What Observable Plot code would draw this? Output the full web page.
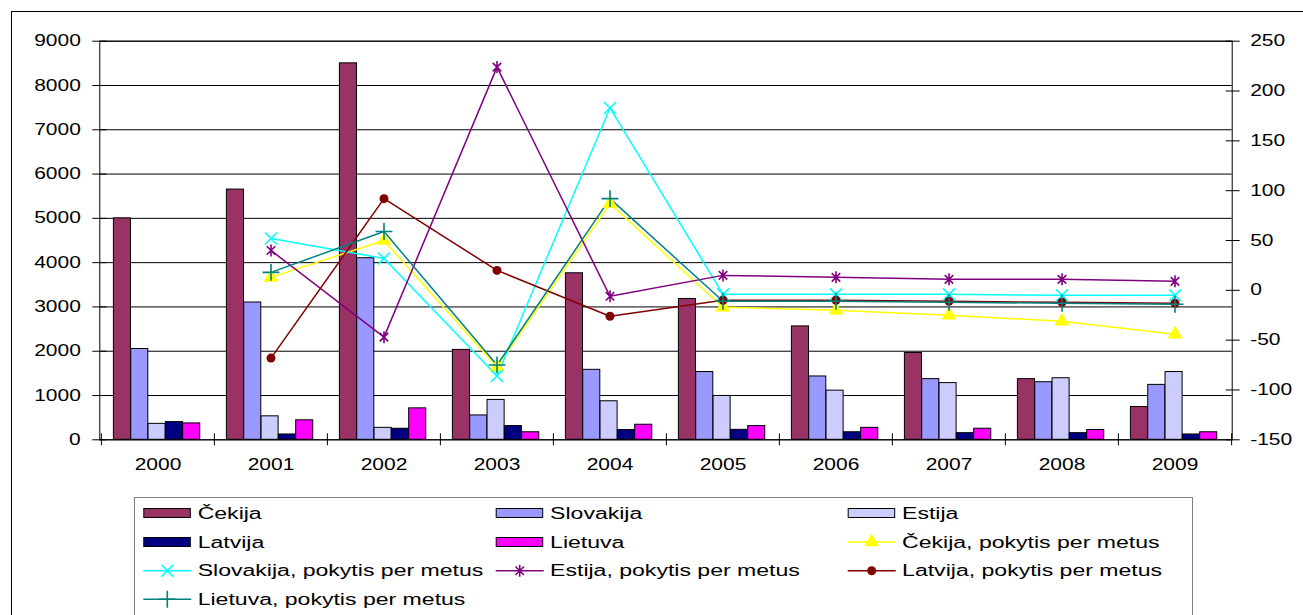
<!DOCTYPE html>
<html>
<head>
<meta charset="utf-8">
<script src="https://cdn.jsdelivr.net/npm/d3@7"></script>
<script src="https://cdn.jsdelivr.net/npm/@observablehq/plot@0.6"></script>
<style>
  html, body { margin: 0; padding: 0; background: #fff; }
  #wrap { position: relative; width: 1303px; height: 615px; overflow: hidden; background: #fff; }
  #wrap > svg { position: absolute; left: 0; top: 0; }
</style>
</head>
<body>
<div id="wrap"></div>
<script>
// ---------- data ----------
const years = ["2000", "2001", "2002", "2003", "2004", "2005", "2006", "2007", "2008", "2009"];
const cekija    = [5000, 5650, 8500, 2030, 3760, 3180, 2560, 1960, 1370, 740];
const slovakija = [2050, 3100, 4100, 550, 1580, 1530, 1430, 1370, 1300, 1240];
const estija    = [360, 530, 270, 900, 870, 990, 1110, 1280, 1390, 1530];
const latvija   = [400, 120, 250, 310, 220, 225, 170, 150, 150, 120];
const lietuva   = [370, 440, 710, 170, 340, 310, 270, 250, 220, 170];

const changeYears  = ["2001", "2002", "2003", "2004", "2005", "2006", "2007", "2008", "2009"];
const cekijaChg    = [13, 50, -77, 87, -17, -20, -25, -31, -44];
const slovakijaChg = [52, 32, -86, 183, -4, -4, -4, -5, -5];
const estijaChg    = [40, -47, 224, -6, 15, 13, 11, 11, 9];
const latvijaChg   = [-68, 92, 20, -26, -10, -10, -11, -12, -13];
const lietuvaChg   = [18, 59, -75, 92, -11, -11, -12, -13, -14];

const leftTicks  = [0, 1000, 2000, 3000, 4000, 5000, 6000, 7000, 8000, 9000];
const rightTicks = [-150, -100, -50, 0, 50, 100, 150, 200, 250];

// Excel-style star marker: an "x" with a vertical bar
const symbolStar = {
  draw(context, size) {
    const r = Math.sqrt(size / Math.PI);
    const d = r * Math.SQRT1_2;
    context.moveTo(-d, -d); context.lineTo(d, d);
    context.moveTo(d, -d); context.lineTo(-d, d);
    context.moveTo(0, -r); context.lineTo(0, r);
  }
};

const barSeries = [
  {name: "Čekija", values: cekija, color: "#993366"},
  {name: "Slovakija", values: slovakija, color: "#9999FF"},
  {name: "Estija", values: estija, color: "#CCCCFF"},
  {name: "Latvija", values: latvija, color: "#000080"},
  {name: "Lietuva", values: lietuva, color: "#FF00FF"}
];
const lineSeries = [
  {name: "Čekija, pokytis per metus", values: cekijaChg, color: "#FFFF00", symbol: d3.symbolTriangle, filled: true, r: 5.5},
  {name: "Slovakija, pokytis per metus", values: slovakijaChg, color: "#00FFFF", symbol: d3.symbolTimes, filled: false, r: 5.5},
  {name: "Estija, pokytis per metus", values: estijaChg, color: "#800080", symbol: symbolStar, filled: false, r: 6},
  {name: "Latvija, pokytis per metus", values: latvijaChg, color: "#800000", symbol: d3.symbolCircle, filled: true, r: 4.5},
  {name: "Lietuva, pokytis per metus", values: lietuvaChg, color: "#008080", symbol: d3.symbolPlus, filled: false, r: 5.5}
];

// right axis domain [-150, 250] mapped onto left domain [0, 9000]
const rMin = -150, rMax = 250, lMax = 9000;
const toLeft = v => (v - rMin) / (rMax - rMin) * lMax;
const fromLeft = d => Math.round(d / lMax * (rMax - rMin) + rMin);

// ---------- layout ----------
const W = 1303, H = 490;
const mL = 99.3, mR = 71.3, mT = 40.7, mB = 50.7;
const innerW = W - mL - mR, innerH = H - mT - mB;
const step = innerW / years.length;
const groupStart = 12.4, barW = 17.32;
const FONT = "'Liberation Sans', Arial, sans-serif";

const marks = [
  Plot.gridY(leftTicks, {stroke: "#000", strokeOpacity: 1, strokeWidth: 1})
];
barSeries.forEach((s, i) => {
  const off = groupStart + barW * i;
  marks.push(Plot.barY(years.map((y, j) => ({year: y, v: s.values[j]})), {
    x: "year", y: "v", fill: s.color, stroke: "#000", strokeWidth: 1,
    insetLeft: off, insetRight: step - off - barW
  }));
});
marks.push(Plot.frame({stroke: "#000", strokeWidth: 1}));
// category boundary ticks
marks.push(Plot.ruleX(years, {x: d => d, dx: -step / 2, insetTop: innerH - 6, insetBottom: -6, stroke: "#000"}));
marks.push(Plot.ruleX([years[years.length - 1]], {x: d => d, dx: step / 2, insetTop: innerH - 6, insetBottom: -6, stroke: "#000"}));
// axes
marks.push(Plot.axisX({tickSize: 0, tickPadding: 19, label: null, fontSize: 16}));
marks.push(Plot.axisY({anchor: "left", ticks: leftTicks, tickSize: 14, dx: 7, text: null, label: null, stroke: "#000"}));
marks.push(Plot.axisY({anchor: "left", ticks: leftTicks, tickSize: 0, tickPadding: 19, label: null, tickFormat: d => String(d), fontSize: 16}));
marks.push(Plot.axisY({anchor: "right", ticks: rightTicks.map(toLeft), tickSize: 14, dx: -7, text: null, label: null, stroke: "#000"}));
marks.push(Plot.axisY({anchor: "right", ticks: rightTicks.map(toLeft), tickSize: 0, tickPadding: 18, label: null, tickFormat: d => String(fromLeft(d)), fontSize: 16}));
// lines
lineSeries.forEach(s => {
  const data = changeYears.map((y, j) => ({year: y, v: toLeft(s.values[j])}));
  marks.push(Plot.line(data, {x: "year", y: "v", stroke: s.color, strokeWidth: 1.5}));
});
lineSeries.forEach(s => {
  const data = changeYears.map((y, j) => ({year: y, v: toLeft(s.values[j])}));
  marks.push(Plot.dot(data, s.filled
    ? {x: "year", y: "v", symbol: s.symbol, fill: s.color, stroke: "none", r: s.r}
    : {x: "year", y: "v", symbol: s.symbol, stroke: s.color, fill: "none", strokeWidth: 1.6, r: s.r}));
});

const chart = Plot.plot({
  width: W, height: H,
  marginLeft: mL, marginRight: mR, marginTop: mT, marginBottom: mB,
  style: {fontFamily: FONT, fontSize: "16px", color: "#000", background: "transparent", overflow: "visible"},
  x: {type: "band", domain: years, padding: 0, axis: null},
  y: {domain: [0, lMax], axis: null},
  marks
});

// ---------- background / border / legend ----------
const wrap = document.getElementById("wrap");
const bg = d3.create("svg").attr("width", 1303).attr("height", 615)
  .style("font-family", FONT).style("font-size", "16px");
bg.append("rect").attr("x", 11.5).attr("y", 11.5).attr("width", 1400).attr("height", 700)
  .attr("fill", "none").attr("stroke", "#000");
const lg = bg.append("g");
lg.append("rect").attr("x", 134.5).attr("y", 497.5).attr("width", 1058).attr("height", 200)
  .attr("fill", "#fff").attr("stroke", "#808080");
const items = [...barSeries.map(s => ({...s, kind: "bar"})), ...lineSeries.map(s => ({...s, kind: "line"}))];
const colX = [143.3, 495.7, 847.7];
const rowY = [513, 542, 570.7, 599.3];
items.forEach((it, i) => {
  const cx = colX[i % 3], cy = rowY[Math.floor(i / 3)];
  if (it.kind === "bar") {
    lg.append("rect").attr("x", cx + 0.5).attr("y", cy - 4.5).attr("width", 46.5).attr("height", 9)
      .attr("fill", it.color).attr("stroke", "#000").attr("stroke-width", 1);
  } else {
    lg.append("line").attr("x1", cx).attr("x2", cx + 48).attr("y1", cy).attr("y2", cy)
      .attr("stroke", it.color).attr("stroke-width", 1.5);
    const p = lg.append("path").attr("d", d3.symbol(it.symbol, Math.PI * it.r * it.r)())
      .attr("transform", `translate(${cx + 24},${cy})`);
    if (it.filled) p.attr("fill", it.color); else p.attr("fill", "none").attr("stroke", it.color).attr("stroke-width", 1.6);
  }
  lg.append("text").attr("x", cx + 54.4).attr("y", cy).attr("dy", "0.36em").attr("fill", "#000").text(it.name);
});

wrap.appendChild(bg.node());
wrap.appendChild(chart);

// horizontal stretch of text glyphs (the reference is horizontally widened)
function stretch(root, k) {
  root.querySelectorAll("text").forEach(t => {
    const L = t.getComputedTextLength();
    if (L > 0) { t.setAttribute("textLength", (L * k).toFixed(1)); t.setAttribute("lengthAdjust", "spacingAndGlyphs"); }
  });
}
stretch(chart, 1.31);
stretch(bg.node(), 1.44);
</script>
</body>
</html>
